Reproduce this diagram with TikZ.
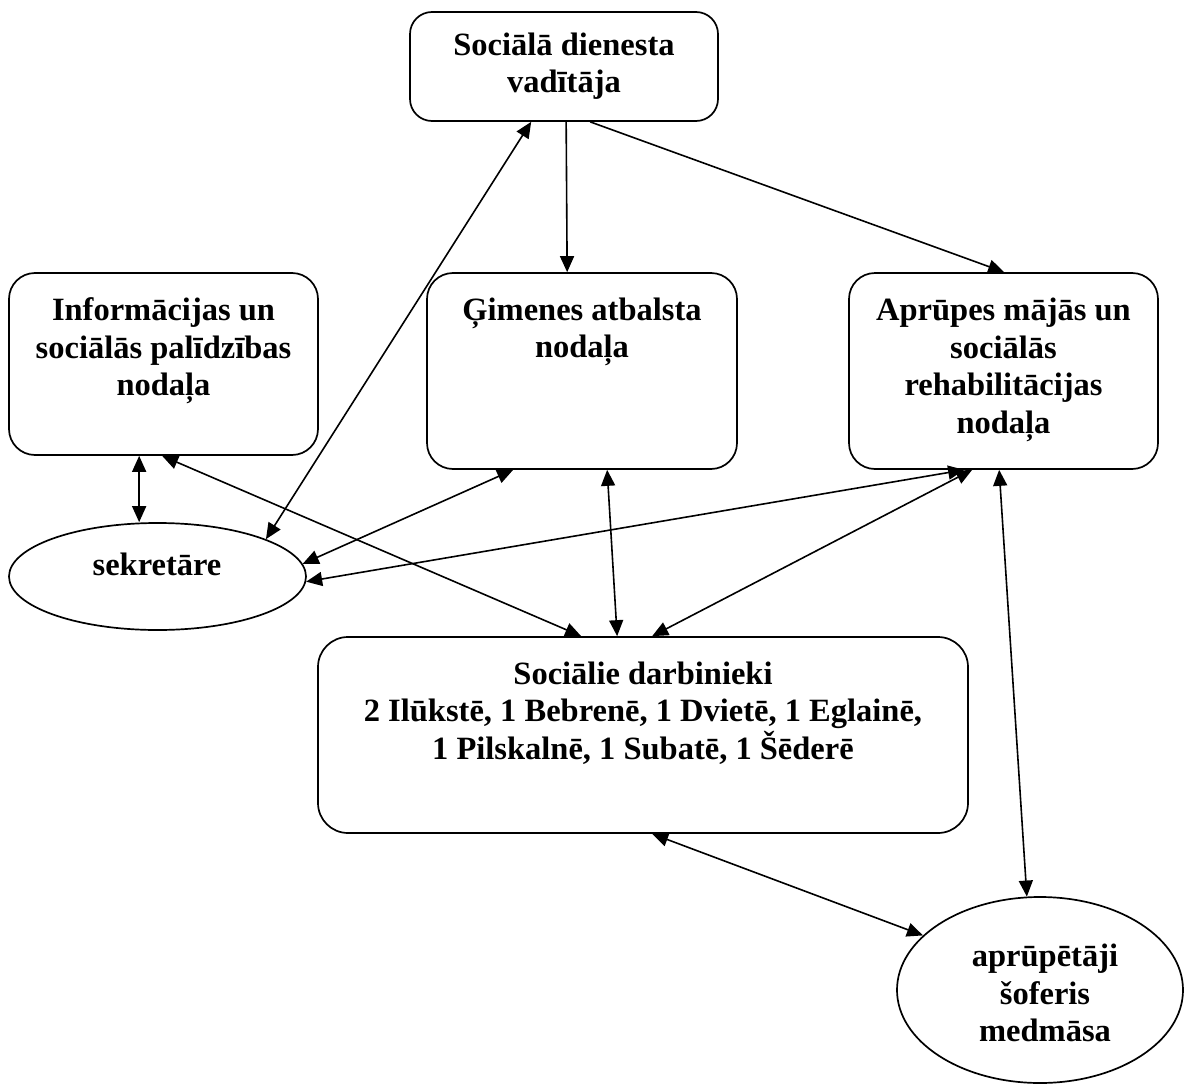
\documentclass[tikz,border=0pt]{standalone}
\usepackage{fontspec}
\setmainfont{Liberation Serif}
\usetikzlibrary{arrows.meta,shapes.geometric,calc}
\tikzset{
  box/.style={draw, line width=1.7pt, rounded corners=26pt, inner sep=0pt, fill=none},
  oval/.style={draw, ellipse, line width=1.7pt, inner sep=0pt},
  txt/.style={align=center, inner sep=0pt, font=\fontsize{32.5}{37.5}\selectfont\bfseries},
  con/.style={line width=1.6pt, -{Triangle[length=16pt,width=14pt]}},
  bicon/.style={line width=1.6pt, {Triangle[length=16pt,width=14pt]}-{Triangle[length=16pt,width=14pt]}}
}
\begin{document}
\begin{tikzpicture}[x=1pt,y=-1pt]
\useasboundingbox (0,0) rectangle (1184,1084);
% boxes
\node[box, minimum width=308pt, minimum height=109pt, rounded corners=22pt] (top) at (564,66.5) {};
\node[txt] (topT) at (564,66) {Sociālā dienesta\\vadītāja};
\node[box, minimum width=309pt, minimum height=182pt] (info) at (163.5,364) {};
\node[txt] (infoT) at (163.5,351) {Informācijas un\\sociālās palīdzības\\nodaļa};
\node[box, minimum width=310pt, minimum height=196pt] (gim) at (582,371) {};
\node[txt] (gimT) at (582,332) {Ģimenes atbalsta\\nodaļa};
\node[box, minimum width=309pt, minimum height=196pt] (apr) at (1003.5,371) {};
\node[txt] (aprT) at (1003.5,370) {Aprūpes mājās un\\sociālās\\rehabilitācijas\\nodaļa};
\node[box, minimum width=650pt, minimum height=196pt, rounded corners=30pt] (soc) at (643,735) {};
\node[txt] (socT) at (643,713) {Sociālie darbinieki\\2 Ilūkstē, 1 Bebrenē, 1 Dvietē, 1 Eglainē,\\1 Pilskalnē, 1 Subatē, 1 Šēderē};
% ellipses
\node[oval, minimum width=297pt, minimum height=107pt] (sek) at (157.5,576.5) {};
\node[txt] (sekT) at (157,564) {sekretāre};
\node[oval, minimum width=286pt, minimum height=186pt] (ell) at (1040,990) {};
\node[txt] (ellT) at (1045,993) {aprūpētāji\\šoferis\\medmāsa};
% connectors
\draw[con] ([xshift=157pt]top.south west) -- ([xshift=141pt]gim.north west);
\draw[con] ([xshift=181pt]top.south west) -- ([xshift=156pt]apr.north west);
\draw[bicon] ([xshift=122pt]top.south west) -- (sek.19);
\coordinate (infoB) at ([xshift=131pt]info.south west);
\draw[bicon] (infoB) -- (infoB |- sek.north);
\draw[bicon] ([xshift=154pt]info.south west) -- ([xshift=264pt]soc.north west);
\draw[bicon] ([xshift=87pt]gim.south west) -- (sek.5);
\draw[bicon] ([xshift=181pt]gim.south west) -- ([xshift=300pt]soc.north west);
\draw[bicon] ([xshift=116pt]apr.south west) -- (sek.-2);
\draw[bicon] ([xshift=124pt]apr.south west) -- ([xshift=335pt]soc.north west);
\draw[bicon] ([xshift=151pt]apr.south west) -- (ell.98);
\draw[bicon] ([xshift=335pt]soc.south west) -- (ell.155);
\end{tikzpicture}
\end{document}
